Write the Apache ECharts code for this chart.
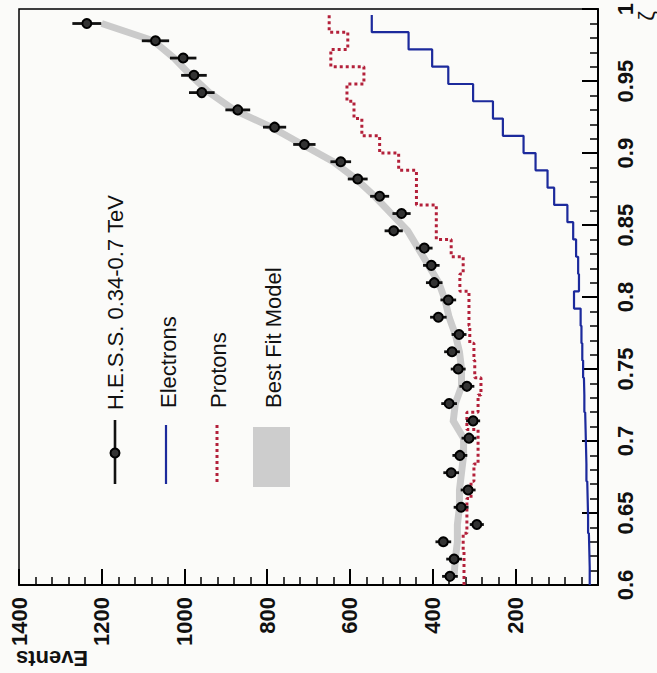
<!DOCTYPE html>
<html>
<head>
<meta charset="utf-8">
<script src="https://cdn.jsdelivr.net/npm/echarts@6/dist/echarts.min.js"></script>
<style>
  html, body { margin: 0; padding: 0; background: #fbfbf9; }
  #chart { width: 657px; height: 673px; }
</style>
</head>
<body>
<div id="chart"></div>
<script>
// bin centres in zeta (bin width 0.012), low -> high
var zetaCenters = [0.606, 0.618, 0.630, 0.642, 0.654, 0.666, 0.678, 0.690, 0.702, 0.714, 0.726,
                   0.738, 0.750, 0.762, 0.774, 0.786, 0.798, 0.810, 0.822, 0.834, 0.846, 0.858,
                   0.870, 0.882, 0.894, 0.906, 0.918, 0.930, 0.942, 0.954, 0.966, 0.978, 0.990];
var binHalfWidth = 0.006;

// H.E.S.S. 0.34-0.7 TeV data points and their errors
var hessEvents = [358, 348, 374, 293, 331, 314, 355, 334, 312, 302, 360, 317, 338, 353, 336, 386,
                  362, 396, 403, 420, 494, 475, 528, 581, 622, 710, 782, 871, 958, 977, 1003, 1070, 1236];
var hessErrors = [19, 19, 19, 17, 18, 18, 19, 18, 18, 17, 19, 18, 18, 19, 18, 20,
                  19, 20, 20, 20, 22, 22, 23, 24, 25, 27, 28, 30, 31, 31, 32, 33, 35];

var electrons = [20, 21, 22, 24, 25, 26, 28, 29, 30, 31, 33, 34, 36, 38, 40, 42,
                 58, 46, 48, 53, 60, 74, 106, 122, 151, 180, 230, 254, 302, 362, 401, 458, 547];
var protons = [324, 324, 326, 317, 317, 307, 300, 290, 290, 317, 290, 283, 298, 300, 310, 312,
               312, 334, 326, 355, 391, 391, 439, 439, 482, 528, 571, 590, 607, 566, 646, 605, 650];
var bestFit = [348, 345, 340, 340, 335, 335, 330, 325, 325, 350, 345, 330, 330, 335, 345, 360,
               370, 385, 410, 435, 460, 500, 540, 585, 640, 715, 790, 880, 940, 985, 1025, 1075, 1200];

var eventTicks = [0, 1400, 200];      // min, max, interval
var zetaTicks = [0.6, 1.0, 0.05];

var FONT = '"Liberation Sans", Arial, Helvetica, sans-serif';
var BLUE = '#1c2a9c';
var RED = '#b3203a';

// histogram as steps: each bin is a vertical run at its value (plot is rotated)
function steps(values) {
    var pts = [];
    for (var i = 0; i < values.length; i++) {
        pts.push([values[i], zetaCenters[i] - binHalfWidth]);
        pts.push([values[i], zetaCenters[i] + binHalfWidth]);
    }
    return pts;
}

var hessData = [];
for (var i = 0; i < hessEvents.length; i++) {
    hessData.push([hessEvents[i], zetaCenters[i], hessErrors[i]]);
}
var fitData = [];
for (var j = 0; j < bestFit.length; j++) {
    fitData.push([bestFit[j], zetaCenters[j]]);
}

var chart = echarts.init(document.getElementById('chart'), null, { renderer: 'svg' });

var option = {
    animation: false,
    backgroundColor: '#fbfbf9',
    grid: {
        left: 19, right: 59, top: 8, bottom: 88,
        show: true, borderColor: '#000', borderWidth: 1.5, backgroundColor: 'transparent'
    },
    xAxis: {
        type: 'value',
        inverse: true,
        position: 'bottom',
        min: eventTicks[0], max: eventTicks[1], interval: eventTicks[2],
        splitLine: { show: false },
        axisLine: { lineStyle: { color: '#000', width: 2 } },
        axisTick: { inside: true, length: 16, lineStyle: { color: '#000', width: 2 } },
        minorTick: { show: true, splitNumber: 5, length: 8, lineStyle: { color: '#000', width: 1.5 } },
        axisLabel: {
            rotate: 90, margin: 12, color: '#111',
            fontFamily: FONT, fontSize: 22, fontWeight: 'bold',
            formatter: function (v) { return v === 0 ? '' : String(v); }
        }
    },
    yAxis: {
        type: 'value',
        position: 'right',
        min: zetaTicks[0], max: zetaTicks[1], interval: zetaTicks[2],
        splitLine: { show: false },
        axisLine: { lineStyle: { color: '#000', width: 2 } },
        axisTick: { inside: true, length: 16, lineStyle: { color: '#000', width: 2 } },
        minorTick: { show: true, splitNumber: 5, length: 8, lineStyle: { color: '#000', width: 1.5 } },
        axisLabel: {
            rotate: 90, margin: 16, color: '#111',
            fontFamily: FONT, fontSize: 22, fontWeight: 'bold',
            formatter: function (v) { return String(parseFloat(v.toFixed(2))); }
        }
    },
    series: [
        {
            name: 'Best Fit Model',
            type: 'line',
            data: fitData,
            showSymbol: false,
            z: 1,
            lineStyle: { color: '#cbcbcb', width: 7, join: 'miter' }
        },
        {
            name: 'Protons',
            type: 'line',
            data: steps(protons),
            showSymbol: false,
            z: 2,
            lineStyle: { color: RED, width: 3, type: [3, 3] }
        },
        {
            name: 'Electrons',
            type: 'line',
            data: steps(electrons),
            showSymbol: false,
            z: 2,
            lineStyle: { color: BLUE, width: 2.2 }
        },
        {
            name: 'H.E.S.S. errors',
            type: 'custom',
            data: hessData,
            z: 3,
            encode: { x: 0, y: 1 },
            renderItem: function (params, api) {
                var v = api.value(0), z = api.value(1), e = api.value(2);
                var a = api.coord([v - e, z]);
                var b = api.coord([v + e, z]);
                return {
                    type: 'line',
                    shape: { x1: a[0], y1: a[1], x2: b[0], y2: b[1] },
                    style: { stroke: '#111', lineWidth: 2.8 }
                };
            }
        },
        {
            name: 'H.E.S.S. 0.34-0.7 TeV',
            type: 'scatter',
            data: hessData,
            z: 4,
            symbol: 'circle',
            symbolSize: 9,
            itemStyle: { color: '#333', borderColor: '#000', borderWidth: 2, opacity: 1 }
        }
    ],
    graphic: [
        // axis titles (rotated like the rest of the figure)
        { type: 'text', x: 52, y: 658, rotation: Math.PI,
          style: { text: 'Events', font: 'bold 22px ' + FONT, fill: '#111',
                   textAlign: 'center', textVerticalAlign: 'middle', align: 'center', verticalAlign: 'middle' } },
        { type: 'text', x: 646, y: 16, rotation: Math.PI / 2,
          style: { text: 'ζ', font: '22px ' + FONT, fill: '#111',
                   textAlign: 'center', textVerticalAlign: 'middle', align: 'center', verticalAlign: 'middle' } },

        // legend
        { type: 'line', shape: { x1: 115, y1: 420, x2: 115, y2: 484 }, style: { stroke: '#111', lineWidth: 2.6 } },
        { type: 'circle', shape: { cx: 115, cy: 453, r: 4.5 }, style: { fill: '#333', stroke: '#000', lineWidth: 2 } },
        { type: 'text', x: 115, y: 410, rotation: Math.PI / 2,
          style: { text: 'H.E.S.S. 0.34-0.7 TeV', font: '22px ' + FONT, fill: '#111',
                   textAlign: 'left', textVerticalAlign: 'middle', align: 'left', verticalAlign: 'middle' } },

        { type: 'line', shape: { x1: 166, y1: 425, x2: 166, y2: 484 }, style: { stroke: BLUE, lineWidth: 2.2 } },
        { type: 'text', x: 168, y: 408, rotation: Math.PI / 2,
          style: { text: 'Electrons', font: '22px ' + FONT, fill: '#111',
                   textAlign: 'left', textVerticalAlign: 'middle', align: 'left', verticalAlign: 'middle' } },

        { type: 'line', shape: { x1: 217, y1: 425, x2: 217, y2: 484 }, style: { stroke: RED, lineWidth: 3, lineDash: [3, 3] } },
        { type: 'text', x: 218, y: 408, rotation: Math.PI / 2,
          style: { text: 'Protons', font: '22px ' + FONT, fill: '#111',
                   textAlign: 'left', textVerticalAlign: 'middle', align: 'left', verticalAlign: 'middle' } },

        { type: 'rect', shape: { x: 253, y: 427, width: 37, height: 60 }, style: { fill: '#cdcdcd' } },
        { type: 'text', x: 273, y: 408, rotation: Math.PI / 2,
          style: { text: 'Best Fit Model', font: '22px ' + FONT, fill: '#111',
                   textAlign: 'left', textVerticalAlign: 'middle', align: 'left', verticalAlign: 'middle' } }
    ]
};

chart.setOption(option);
</script>
</body>
</html>
